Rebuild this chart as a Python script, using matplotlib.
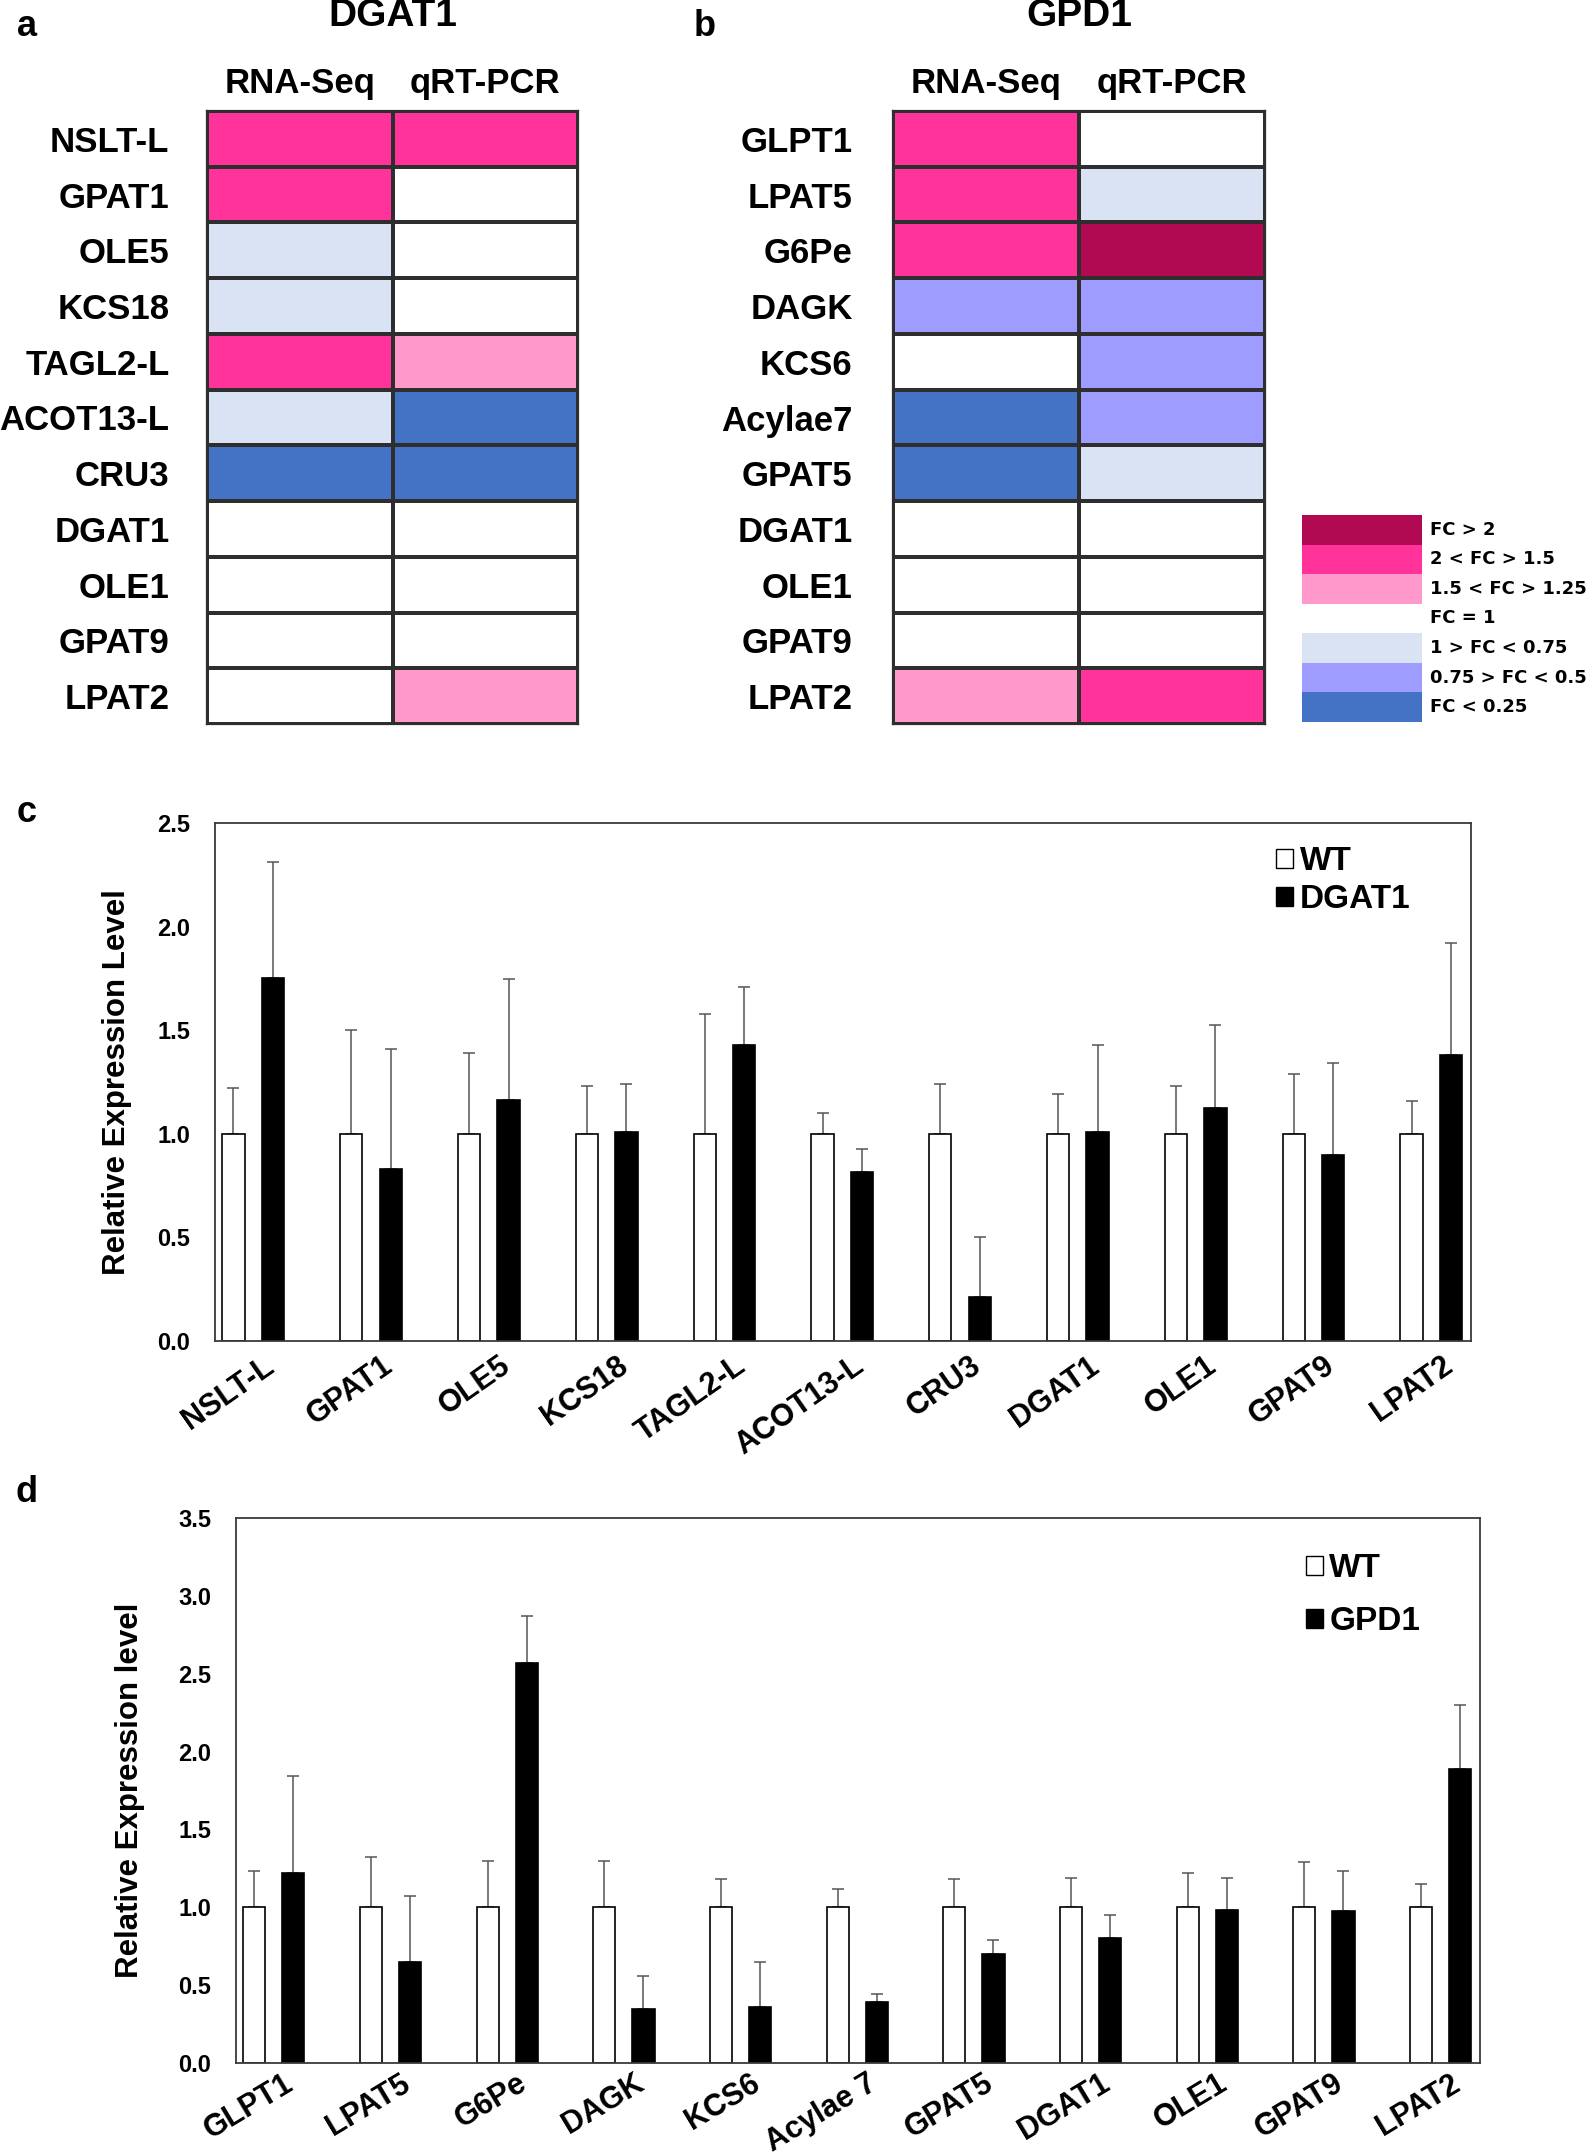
import numpy as np
import matplotlib
matplotlib.use('Agg')
import matplotlib.pyplot as plt
from matplotlib.colors import ListedColormap, BoundaryNorm
from matplotlib.patches import Patch

plt.rcParams['font.family'] = 'Liberation Sans'
plt.rcParams['font.weight'] = 'bold'
plt.rcParams['axes.labelweight'] = 'bold'

# fold-change classes: 3 = FC>2, 2 = 2<FC>1.5, 1 = 1.5<FC>1.25, 0 = FC=1,
# -1 = 1>FC<0.75, -2 = 0.75>FC<0.5, -3 = FC<0.25
methods = ['RNA-Seq', 'qRT-PCR']

genes_a = ['NSLT-L', 'GPAT1', 'OLE5', 'KCS18', 'TAGL2-L', 'ACOT13-L', 'CRU3',
           'DGAT1', 'OLE1', 'GPAT9', 'LPAT2']
rnaseq_a = [2, 2, -1, -1, 2, -1, -3, 0, 0, 0, 0]
qpcr_a = [2, 0, 0, 0, 1, -3, -3, 0, 0, 0, 1]

genes_b = ['GLPT1', 'LPAT5', 'G6Pe', 'DAGK', 'KCS6', 'Acylae7', 'GPAT5',
           'DGAT1', 'OLE1', 'GPAT9', 'LPAT2']
rnaseq_b = [2, 2, 2, -2, 0, -3, -3, 0, 0, 0, 1]
qpcr_b = [0, -1, 3, -2, -2, -2, -1, 0, 0, 0, 2]

fc_classes = [3, 2, 1, 0, -1, -2, -3]
fc_labels = ['FC > 2', '2 < FC > 1.5', '1.5 < FC > 1.25', 'FC = 1',
             '1 > FC < 0.75', '0.75 > FC < 0.5', 'FC < 0.25']

# bar chart c (DGAT1 line)
genes_c = ['NSLT-L', 'GPAT1', 'OLE5', 'KCS18', 'TAGL2-L', 'ACOT13-L', 'CRU3',
           'DGAT1', 'OLE1', 'GPAT9', 'LPAT2']
wt_c = [1.0, 1.0, 1.0, 1.0, 1.0, 1.0, 1.0, 1.0, 1.0, 1.0, 1.0]
wt_c_err = [0.22, 0.50, 0.39, 0.23, 0.58, 0.10, 0.24, 0.19, 0.23, 0.29, 0.16]
dgat1_c = [1.75, 0.83, 1.165, 1.01, 1.43, 0.815, 0.21, 1.01, 1.125, 0.90, 1.38]
dgat1_c_err = [0.56, 0.58, 0.58, 0.23, 0.28, 0.11, 0.29, 0.42, 0.40, 0.44, 0.54]

# bar chart d (GPD1 line)
genes_d = ['GLPT1', 'LPAT5', 'G6Pe', 'DAGK', 'KCS6', 'Acylae 7', 'GPAT5',
           'DGAT1', 'OLE1', 'GPAT9', 'LPAT2']
wt_d = [1.0, 1.0, 1.0, 1.0, 1.0, 1.0, 1.0, 1.0, 1.0, 1.0, 1.0]
wt_d_err = [0.23, 0.32, 0.30, 0.30, 0.18, 0.12, 0.18, 0.19, 0.22, 0.29, 0.15]
gpd1_d = [1.22, 0.65, 2.57, 0.35, 0.36, 0.39, 0.70, 0.80, 0.985, 0.975, 1.89]
gpd1_d_err = [0.62, 0.42, 0.30, 0.21, 0.29, 0.05, 0.09, 0.15, 0.20, 0.26, 0.41]

W, H = 1595, 2155
fig = plt.figure(figsize=(W / 100, H / 100), dpi=100)


def px(x0, y0, x1, y1):
    # pixel box -> figure rect
    return [x0 / W, 1 - y1 / H, (x1 - x0) / W, (y1 - y0) / H]


fc_colors = ['#b10a52', '#ff3399', '#ff99cc', '#ffffff', '#dae3f3', '#9e9cff', '#4472c4']
cmap = ListedColormap(fc_colors[::-1])
norm = BoundaryNorm(np.arange(-3.5, 4.5, 1), cmap.N)


def heatmap(rect, genes, col1, col2, title, pad):
    ax = fig.add_axes(rect)
    data = np.array([col1, col2]).T
    ax.pcolormesh(np.arange(3), np.arange(len(genes) + 1), data, cmap=cmap, norm=norm,
                  edgecolors='#2e2e2e', linewidth=1.6)
    ax.set_xlim(0, 2)
    ax.set_ylim(len(genes), 0)
    ax.set_yticks(np.arange(len(genes)) + 0.5, genes, fontsize=25, fontweight='bold')
    ax.xaxis.tick_top()
    ax.set_xticks([0.5, 1.5], methods, fontsize=25, fontweight='bold')
    ax.tick_params(axis='y', length=0, pad=pad)
    ax.tick_params(axis='x', length=0, pad=8)
    for s in ax.spines.values():
        s.set_linewidth(1.6)
        s.set_color('#2e2e2e')
    bb = ax.get_position()
    fig.text((bb.x0 + bb.x1) / 2, 1 - 16 / H, title, ha='center', va='center',
             fontsize=28, fontweight='bold')
    return ax


heatmap(px(207, 111, 578, 724), genes_a, rnaseq_a, qpcr_a, 'DGAT1', 27)
heatmap(px(893, 111, 1265, 724), genes_b, rnaseq_b, qpcr_b, 'GPD1', 29)

# colour key
axk = fig.add_axes(px(1302, 515, 1422, 722))
axk.pcolormesh(np.array([[c] for c in fc_classes]), cmap=cmap, norm=norm)
axk.set_ylim(len(fc_classes), 0)
axk.axis('off')
for i, lab in enumerate(fc_labels):
    axk.text(1.07, i + 0.5, lab, transform=axk.get_yaxis_transform(), ha='left', va='center',
             fontsize=13, family='DejaVu Sans', fontweight='bold')


def bars(rect, genes, wt, wt_err, mut, mut_err, mut_name, ymax, ylabel, ylab_x,
         leg_anchor, leg_space, rot, xpad):
    ax = fig.add_axes(rect)
    n = len(genes)
    x = np.arange(n)
    off, w = 0.335, 0.19
    ax.errorbar(x, wt, yerr=[np.zeros(n), wt_err], fmt='none', ecolor='#555555',
                elinewidth=1.1, capsize=4, capthick=1.1, zorder=1)
    ax.errorbar(x + off, mut, yerr=[np.zeros(n), mut_err], fmt='none', ecolor='#555555',
                elinewidth=1.1, capsize=4, capthick=1.1, zorder=1)
    ax.bar(x, wt, w, color='white', edgecolor='black', linewidth=1.2, zorder=2)
    ax.bar(x + off, mut, w, color='black', edgecolor='black', linewidth=1.2, zorder=2)
    ax.set_xlim(-0.157, n - 1 + off + 0.17)
    ax.set_ylim(0, ymax)
    yt = np.arange(0, ymax + 0.01, 0.5)
    ax.set_yticks(yt, ['%.1f' % v for v in yt], fontsize=17, fontweight='bold')
    ax.set_xticks(x + 0.25, genes, fontsize=22, fontweight='bold', rotation=rot,
                  ha='right', rotation_mode='anchor')
    ax.tick_params(axis='y', length=0, pad=18)
    ax.tick_params(axis='x', length=0, pad=xpad)
    for s in ax.spines.values():
        s.set_linewidth(1.3)
        s.set_color('#3a3a3a')
    ax.set_ylabel(ylabel, fontsize=22.5, fontweight='bold')
    ax.yaxis.set_label_coords(ylab_x, 0.5)
    handles = [Patch(facecolor='white', edgecolor='black', linewidth=1.0, label='WT'),
               Patch(facecolor='black', edgecolor='black', label=mut_name)]
    ax.legend(handles=handles, loc='upper left', bbox_to_anchor=leg_anchor, frameon=False,
              prop={'size': 24, 'weight': 'bold'}, handlelength=0.5, handleheight=0.5,
              handletextpad=0.2, labelspacing=leg_space, borderpad=0, borderaxespad=0)
    return ax


bars(px(215, 823, 1471, 1341), genes_c, wt_c, wt_c_err, dgat1_c, dgat1_c_err, 'DGAT1',
     2.5, 'Relative Expression Level', -0.066, (0.845, 0.955), 0.2, 35, 7)
bars(px(236, 1518, 1480, 2063), genes_d, wt_d, wt_d_err, gpd1_d, gpd1_d_err, 'GPD1',
     3.5, 'Relative Expression level', -0.073, (0.86, 0.935), 0.65, 31, 4)

for letter, (lx, ly) in zip('abcd', [(27, 27), (705, 27), (27, 813), (27, 1493)]):
    fig.text(lx / W, 1 - ly / H, letter, ha='center', va='center', fontsize=26, fontweight='bold')

fig.savefig('out.png', dpi=100)
